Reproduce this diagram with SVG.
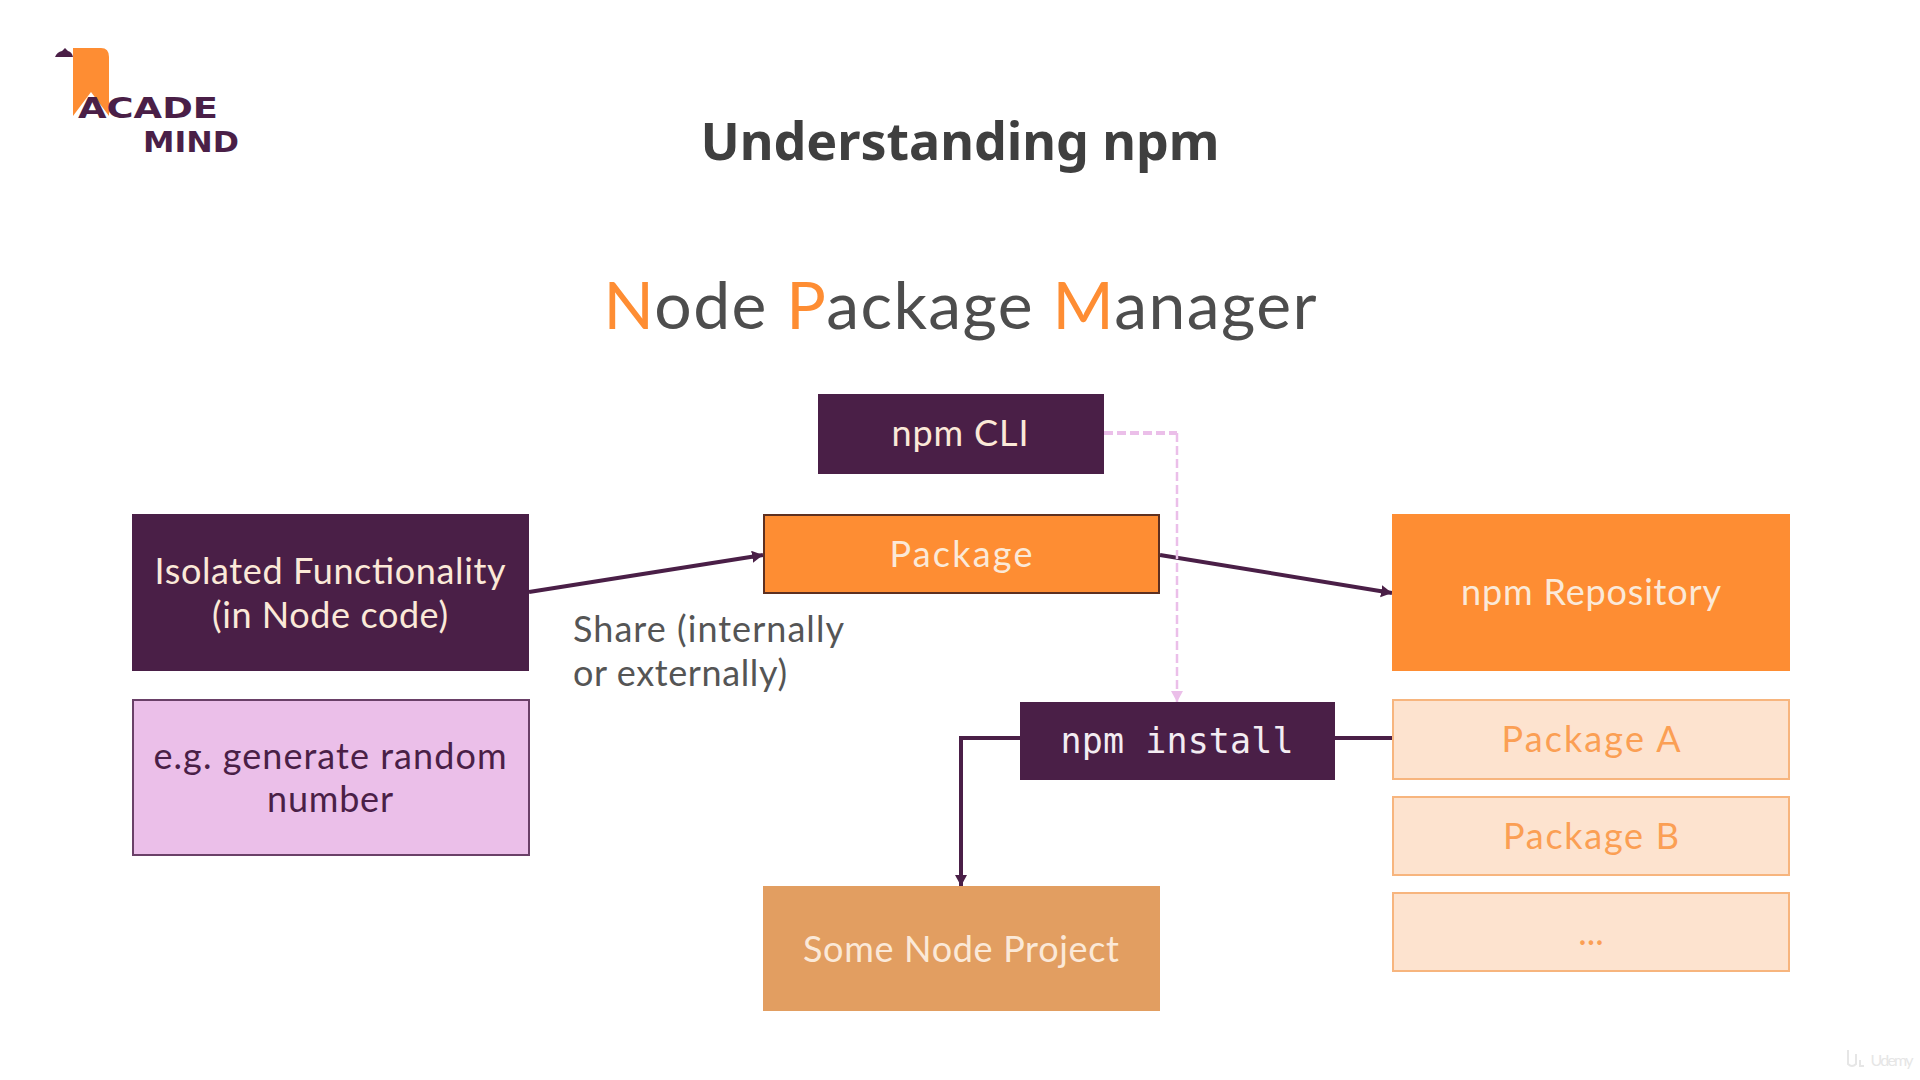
<svg xmlns="http://www.w3.org/2000/svg" width="1920" height="1080" viewBox="0 0 1920 1080">
<defs>
<marker id="ah" markerUnits="userSpaceOnUse" markerWidth="14" markerHeight="14" refX="11" refY="6" orient="auto"><path d="M0 0L11 6L0 12Z" fill="#4a1f47"/></marker>
<marker id="ahp" markerUnits="userSpaceOnUse" markerWidth="14" markerHeight="14" refX="11" refY="6" orient="auto"><path d="M0 0L11 6L0 12Z" fill="#ebbfe9"/></marker>
</defs>
<style>
text{font-family:"Lato","Noto Sans",sans-serif;text-anchor:middle}
.l{font-size:36px;fill:#fbe9d8}
.d{fill:#4a1f47}
.o{fill:#fe8d33}
.po{fill:#fde3cf;stroke:#f7b57e;stroke-width:2}
.tp{font-size:36px;fill:#fb9f54}
.c{fill:none;stroke:#4a1f47;stroke-width:4}
.lg{font-family:"DejaVu Sans",sans-serif;font-weight:700;font-size:29px;fill:#4a1f47;text-anchor:start}
</style>
<rect width="1920" height="1080" fill="#fff"/>
<g id="logo">
<path d="M73 48H101Q109 48 109 57V116L91 92L73 116Z" fill="#fe8d33"/>
<path d="M55 57Q57 52 62 51L65 48L68 51Q72 52 73 57Z" fill="#4a1f47"/>
<text class="lg" x="78" y="118" textLength="140" lengthAdjust="spacingAndGlyphs">ACADE</text>
<text class="lg" x="143" y="152" textLength="96" lengthAdjust="spacingAndGlyphs">MIND</text>
</g>
<text id="title" x="960" y="160" font-size="52" font-weight="700" fill="#3f3f3f" textLength="519" style="font-family:'Noto Sans',sans-serif">Understanding npm</text>
<text id="subtitle" x="960" y="329" font-size="66" fill="#4d4d4d" textLength="713"><tspan fill="#fe8d33">N</tspan>ode <tspan fill="#fe8d33">P</tspan>ackage <tspan fill="#fe8d33">M</tspan>anager</text>
<g id="connectors">
<path class="c" d="M529 592L763 555" marker-end="url(#ah)"/>
<path class="c" d="M1160 555L1392 593" marker-end="url(#ah)"/>
<path class="c" d="M1020 738H961V886" marker-end="url(#ah)"/>
<path class="c" d="M1335 738H1392"/>
<path d="M1104 433H1177" fill="none" stroke="#ebbfe9" stroke-width="4" stroke-dasharray="9 4"/>
<path d="M1177 433V702" fill="none" stroke="#ebbfe9" stroke-width="2.500" stroke-dasharray="9 4" marker-end="url(#ahp)"/>
</g>
<g id="npm-cli"><rect class="d" x="818" y="394" width="286" height="80"/><text class="l" x="960" y="446" textLength="137">npm CLI</text></g>
<g id="package"><rect x="764" y="515" width="395" height="78" fill="#fe8d33" stroke="#5e3020" stroke-width="2"/><text class="l" x="961" y="567" textLength="143">Package</text></g>
<g id="isolated"><rect class="d" x="132" y="514" width="397" height="157"/><text class="l" x="330" y="584" textLength="351">Isolated Functionality</text><text class="l" x="330" y="628" textLength="236">(in Node code)</text></g>
<g id="example"><rect x="133" y="700" width="396" height="155" fill="#ebbfe9" stroke="#6a4068" stroke-width="2"/><text x="330" y="769" font-size="36" fill="#4a1f47" textLength="353">e.g. generate random</text><text x="330" y="812" font-size="36" fill="#4a1f47" textLength="126">number</text></g>
<g id="share-label"><text x="573" y="642" font-size="36" fill="#555" textLength="271" style="text-anchor:start">Share (internally</text><text x="573" y="686" font-size="36" fill="#555" textLength="214" style="text-anchor:start">or externally)</text></g>
<g id="npm-install"><rect class="d" x="1020" y="702" width="315" height="78"/><text x="1177" y="753" font-size="35" fill="#f3ecf2" textLength="233" style="font-family:'DejaVu Sans Mono',monospace">npm install</text></g>
<g id="repository"><rect class="o" x="1392" y="514" width="398" height="157"/><text class="l" x="1591" y="605" textLength="260">npm Repository</text></g>
<g id="package-a"><rect class="po" x="1393" y="700" width="396" height="79"/><text class="tp" x="1591" y="752" textLength="179">Package A</text></g>
<g id="package-b"><rect class="po" x="1393" y="797" width="396" height="78"/><text class="tp" x="1591" y="849" textLength="176">Package B</text></g>
<g id="more"><rect class="po" x="1393" y="893" width="396" height="78"/><text class="tp" x="1591" y="945" font-size="30">...</text></g>
<g id="project"><rect x="763" y="886" width="397" height="125" fill="#e29e61"/><text class="l" x="961" y="962" textLength="316">Some Node Project</text></g>
<text id="watermark" x="1892" y="1066" font-size="16" fill="#e6e6e6" textLength="43">Udemy</text>
<path id="watermark-mark" d="M1848 1050V1064Q1852 1068 1856 1064V1054M1860 1060V1066H1864" fill="none" stroke="#e6e6e6" stroke-width="2"/>
</svg>
